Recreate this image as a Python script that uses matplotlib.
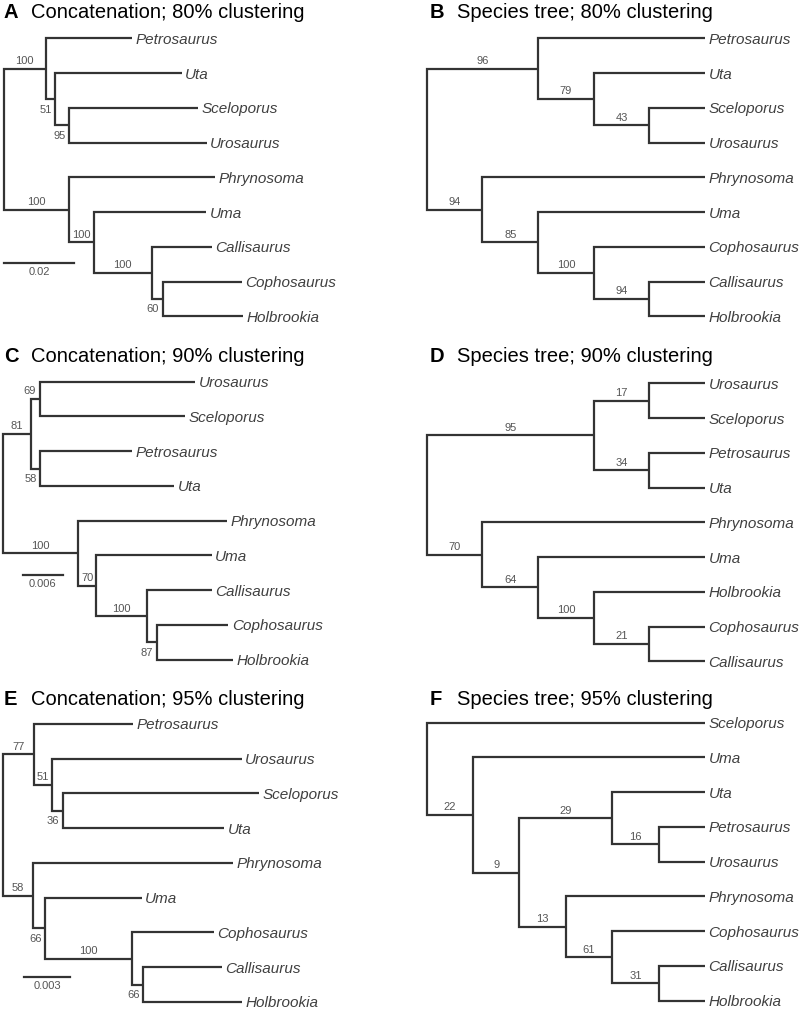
import matplotlib
matplotlib.use("Agg")
import matplotlib.pyplot as plt

plt.rcParams['font.family'] = ['Liberation Sans', 'DejaVu Sans']

# ---------------------------------------------------------------
# trees (newick); concatenation trees carry branch lengths,
# species trees are drawn as cladograms
# ---------------------------------------------------------------
TREE_A = ("((Petrosaurus:0.0246,(Uta:0.0362,(Sceloporus:0.0369,Urosaurus:0.0393)95:0.0040)51:0.0027)100:0.0119,"
          "(Phrynosoma:0.0417,(Uma:0.0320,(Callisaurus:0.0171,(Cophosaurus:0.0226,Holbrookia:0.0230)60:0.0031)"
          "100:0.0165)100:0.0071)100:0.0186);")
TREE_B = ("((Petrosaurus,(Uta,(Sceloporus,Urosaurus)43)79)96,"
          "(Phrynosoma,(Uma,(Cophosaurus,(Callisaurus,Holbrookia)94)100)85)94);")
TREE_C = ("(((Urosaurus:0.02325,Sceloporus:0.02175)69:0.00135,(Petrosaurus:0.01375,Uta:0.0201)58:0.00135)81:0.00415,"
          "(Phrynosoma:0.02226,(Uma:0.01735,(Callisaurus:0.00966,(Cophosaurus:0.01074,Holbrookia:0.01149)87:0.00141)"
          "100:0.0077)70:0.00265)100:0.01125);")
TREE_D = ("(((Urosaurus,Sceloporus)17,(Petrosaurus,Uta)34)95,"
          "(Phrynosoma,(Uma,(Holbrookia,(Cophosaurus,Callisaurus)21)100)64)70);")
TREE_E = ("((Petrosaurus:0.00648,(Urosaurus:0.01235,(Sceloporus:0.01282,Uta:0.01052)36:0.00068)51:0.00119)77:0.0020,"
          "(Phrynosoma:0.01308,(Uma:0.00631,(Cophosaurus:0.00533,(Callisaurus:0.00511,Holbrookia:0.00642)66:0.00072)"
          "100:0.00569)66:0.0008)58:0.00192);")
TREE_F = ("(Sceloporus,(Uma,((Uta,(Petrosaurus,Urosaurus)16)29,"
          "(Phrynosoma,(Cophosaurus,(Callisaurus,Holbrookia)31)61)13)9)22);")

TITLES = ["Concatenation; 80% clustering", "Species tree; 80% clustering",
          "Concatenation; 90% clustering", "Species tree; 90% clustering",
          "Concatenation; 95% clustering", "Species tree; 95% clustering"]
LETTERS = ["A", "B", "C", "D", "E", "F"]
SCALE_LEN = {"A": 0.02, "C": 0.006, "E": 0.003}
SCALE_TXT = {"A": "0.02", "C": "0.006", "E": "0.003"}
# supports squeezed next to short branches (preorder index of internal node)
BELOW = {"A": [2, 3, 7], "C": [3, 7], "E": [3, 5, 7]}
ABOVE_SHORT = {"C": [2]}

W, H = 800, 1011
LINE = '#333333'
TIPCOL = '#404040'
SUPCOL = '#555555'


def parse_newick(s):
    s = s.strip().rstrip(';')
    pos = 0

    def node():
        nonlocal pos
        kids = []
        if s[pos] == '(':
            pos += 1
            kids.append(node())
            while s[pos] == ',':
                pos += 1
                kids.append(node())
            pos += 1
        start = pos
        while pos < len(s) and s[pos] not in ',():':
            pos += 1
        name = s[start:pos]
        blen = None
        if pos < len(s) and s[pos] == ':':
            pos += 1
            start = pos
            while pos < len(s) and s[pos] not in ',()':
                pos += 1
            blen = float(s[start:pos])
        return {'name': name, 'len': blen, 'kids': kids}
    return node()


def layout(tree, phylo):
    tips = []
    order = []

    def walk(n, x0, parent):
        order.append(n)
        n['parent'] = parent
        if phylo:
            n['x'] = x0 + (n['len'] or 0.0)
        for k in n['kids']:
            walk(k, n.get('x', 0.0), n)
        if not n['kids']:
            n['y'] = len(tips)
            tips.append(n)
            n['h'] = 0
        else:
            n['y'] = (n['kids'][0]['y'] + n['kids'][-1]['y']) / 2.0
            n['h'] = max(k['h'] for k in n['kids']) + 1
    if phylo:
        tree['len'] = 0.0
    walk(tree, 0.0, None)
    if not phylo:
        for n in order:
            n['x'] = -n['h']
    return order


# panel geometry in pixels: (left, first tip y, root x inside axes)
PANELS = {
    "A": (0, 38.3, 4.0), "B": (400, 38.3, 26.7),
    "C": (0, 381.7, 3.3), "D": (400, 383.3, 26.7),
    "E": (0, 724.0, 3.3), "F": (400, 722.7, 26.7),
}
PPU = {"A": 3500.0, "C": 6667.0, "E": 15333.0}
TIP_PX = 305.0
SPACING = 34.75
SCALEBAR = {"A": (4.0, 6.46), "C": (22.7, 5.56), "E": (24.0, 7.29)}
TITLE_Y = [12, 12, 356.7, 356.7, 699.3, 699.3]

fig = plt.figure(figsize=(W / 100, H / 100), dpi=100)
trees = [TREE_A, TREE_B, TREE_C, TREE_D, TREE_E, TREE_F]

for i, (letter, newick) in enumerate(zip(LETTERS, trees)):
    phylo = letter in PPU
    tree = parse_newick(newick)
    nodes = layout(tree, phylo)
    left, y0, rx = PANELS[letter]
    top = y0 - SPACING / 2
    ax = fig.add_axes([left / W, 1 - (top + 9 * SPACING) / H, 400 / W, 9 * SPACING / H])
    ax.set_ylim(8.5, -0.5)
    if phylo:
        ppu = PPU[letter]
        ax.set_xlim(-rx / ppu, (400 - rx) / ppu)
    else:
        depth = tree['h']
        ppu = (TIP_PX - rx) / depth
        ax.set_xlim(-depth - rx / ppu, (400 - TIP_PX) / ppu)
    ax.axis('off')

    below = BELOW.get(letter, [])
    above_short = ABOVE_SHORT.get(letter, [])
    inner = [n for n in nodes if n['kids']]
    for idx, n in enumerate(inner):
        a, b = n['kids'][0], n['kids'][-1]
        ax.plot([a['x'], n['x'], n['x'], b['x']], [a['y'], a['y'], b['y'], b['y']],
                color=LINE, lw=1.6, solid_joinstyle='miter', solid_capstyle='butt',
                clip_on=False)
        for k in n['kids'][1:-1]:
            ax.plot([n['x'], k['x']], [k['y'], k['y']], color=LINE, lw=1.6, clip_on=False)
        if not n['name'] or n['parent'] is None:
            continue
        if idx in below:
            ax.annotate(n['name'], (n['x'], n['y']), xytext=(-2.5, -7.5),
                        textcoords='offset points', ha='right', va='center',
                        fontsize=8, color=SUPCOL)
        elif idx in above_short:
            ax.annotate(n['name'], (n['x'], n['y']), xytext=(-3, 5.5),
                        textcoords='offset points', ha='right', va='center',
                        fontsize=8, color=SUPCOL)
        else:
            mid = (n['parent']['x'] + n['x']) / 2
            ax.annotate(n['name'], (mid, n['y']), xytext=(0, 5.5),
                        textcoords='offset points', ha='center', va='center',
                        fontsize=8, color=SUPCOL)

    for n in nodes:
        if not n['kids']:
            ax.annotate(n['name'], (n['x'], n['y']), xytext=(2.5, 0),
                        textcoords='offset points', ha='left', va='center_baseline',
                        fontsize=11, style='italic', color=TIPCOL)

    if phylo:
        bx, by = SCALEBAR[letter]
        x0 = (bx - rx) / ppu
        ax.plot([x0, x0 + SCALE_LEN[letter]], [by, by], color=LINE, lw=1.6, clip_on=False)
        ax.annotate(SCALE_TXT[letter], (x0 + SCALE_LEN[letter] / 2, by), xytext=(0, -6.5),
                    textcoords='offset points', ha='center', va='center',
                    fontsize=8, color=SUPCOL)

    lx = 4 if left == 0 else 430
    fig.text(lx / W, 1 - TITLE_Y[i] / H, letter, fontsize=14.5, fontweight='bold',
             ha='left', va='center')
    fig.text((lx + 27) / W, 1 - TITLE_Y[i] / H, TITLES[i], fontsize=14.5,
             ha='left', va='center')

fig.savefig("out.png", dpi=100)
